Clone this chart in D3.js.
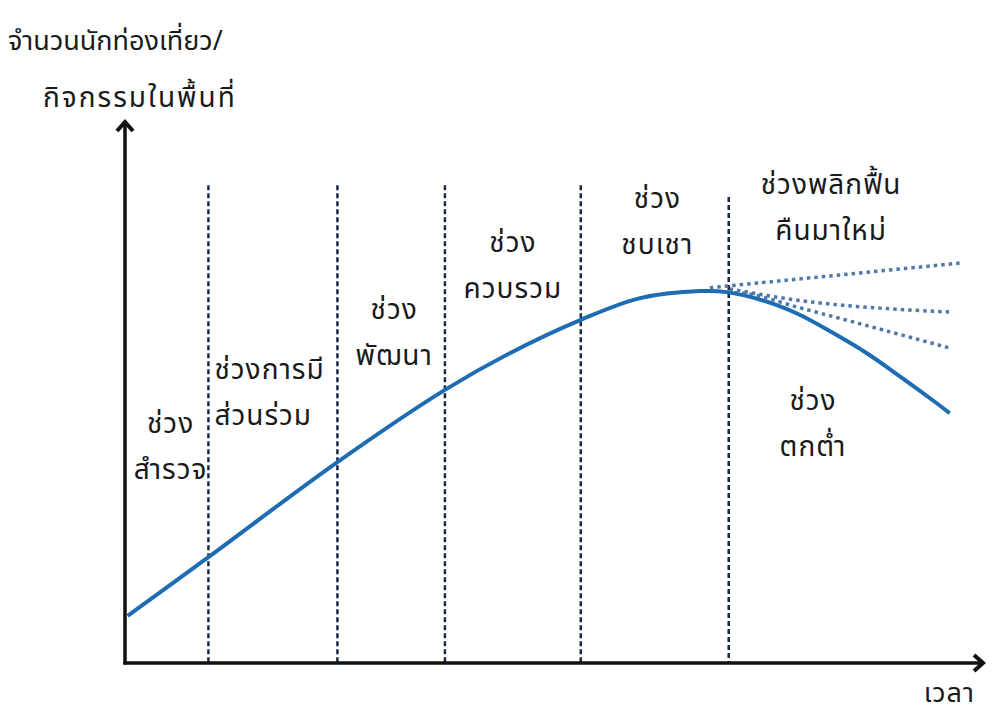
<!DOCTYPE html>
<html>
<head>
<meta charset="utf-8">
<script src="https://cdn.jsdelivr.net/npm/d3@7"></script>
<style>
  body { margin: 0; background: #fff; }
  text { font-family: "Noto Sans Thai", "Noto Sans", "DejaVu Sans", sans-serif; fill: #1a1a1a; }
</style>
</head>
<body>
<div id="chart"></div>
<script>
// main curve (time, visitors)
var curveT = [0.3, 9.7, 24.7, 37.2, 44.8, 53, 59.9, 66.9, 70, 74.7, 78.5, 82.3, 86.3, 90.1, 94, 95.9];
var curveV = [8.7, 19.5, 37, 50.3, 57.1, 63.2, 67.2, 68.5, 68.3, 66.5, 64.1, 60.8, 57, 52.8, 48.3, 46];

// rejuvenation scenarios (dotted)
var scenarioT = [[68, 97.4], [70.3, 76.5, 96.3], [70, 71.9, 78.5, 95.9]];
var scenarioV = [[69.1, 73.7], [68.9, 67.2, 64.6], [68.3, 68.1, 65.4, 58]];

// stage boundaries (time)
var boundaries = [9.7, 24.7, 37.2, 53, 70.2];
var boundaryTop = [88, 88, 88, 88, 85.8];

// stage labels
var stageLines = [["ช่วง", "สำรวจ"], ["ช่วงการมี", "ส่วนร่วม"], ["ช่วง", "พัฒนา"], ["ช่วง", "ควบรวม"],
                  ["ช่วง", "ชบเชา"], ["ช่วงพลิกฟื้น", "คืนมาใหม่"], ["ช่วง", "ตกต่ำ"]];
var stageT = [5.3, 10.4, 31.3, 45.1, 61.9, 82.1, 80];
var stageV = [42.3, 52.3, 63.3, 75.7, 83.8, 86.4, 46.6];
var stageAnchor = ["middle", "start", "middle", "middle", "middle", "middle", "middle"];

var yTitle = ["จำนวนนักท่องเที่ยว/", "กิจกรรมในพื้นที่"];
var xTitle = "เวลา";

var width = 992, height = 719;

var svg = d3.select("#chart").append("svg")
    .attr("width", width)
    .attr("height", height);

var x = d3.scaleLinear().domain([0, 100]).range([125, 985]);
var y = d3.scaleLinear().domain([0, 100]).range([663, 120]);

// dashed stage lines
svg.selectAll(".stage-line")
    .data(boundaries)
    .enter().append("line")
    .attr("class", "stage-line")
    .attr("x1", function (d) { return x(d) })
    .attr("x2", function (d) { return x(d) })
    .attr("y1", function (d, i) { return y(boundaryTop[i]) })
    .attr("y2", y(0))
    .attr("stroke", "#1a2847")
    .attr("stroke-width", 2.5)
    .attr("stroke-dasharray", "5,3")

var line = d3.line()
    .x(function (d) { return x(d[0]) })
    .y(function (d) { return y(d[1]) })
    .curve(d3.curveMonotoneX)

// dotted scenarios
scenarioT.forEach(function (ts, k) {
    svg.append("path")
        .datum(ts.map(function (t, i) { return [t, scenarioV[k][i]] }))
        .attr("d", line)
        .attr("fill", "none")
        .attr("stroke", "#5079a8")
        .attr("stroke-width", 3.5)
        .attr("stroke-dasharray", "3.5,4")
})

// main curve
svg.append("path")
    .datum(curveT.map(function (t, i) { return [t, curveV[i]] }))
    .attr("d", line.curve(d3.curveCatmullRom))
    .attr("fill", "none")
    .attr("stroke", "#1e6cb3")
    .attr("stroke-width", 4)

// axes with arrows
svg.append("line")
    .attr("x1", x(0)).attr("x2", x(0))
    .attr("y1", y(0) + 1.5).attr("y2", y(100) + 2)
    .attr("stroke", "#111").attr("stroke-width", 3.5)
svg.append("line")
    .attr("x1", x(0) - 1.5).attr("x2", x(100) - 2)
    .attr("y1", y(0)).attr("y2", y(0))
    .attr("stroke", "#111").attr("stroke-width", 3.5)
svg.append("path")
    .attr("d", "M" + (x(0) - 8) + "," + (y(100) + 11) + "L" + x(0) + "," + (y(100) + 2) + "L" + (x(0) + 8) + "," + (y(100) + 11))
    .attr("fill", "none").attr("stroke", "#111").attr("stroke-width", 4)
svg.append("path")
    .attr("d", "M" + (x(100) - 11) + "," + (y(0) - 8) + "L" + (x(100) - 2) + "," + y(0) + "L" + (x(100) - 11) + "," + (y(0) + 8))
    .attr("fill", "none").attr("stroke", "#111").attr("stroke-width", 4)

// axis titles
svg.append("text").attr("x", 8).attr("y", 50).attr("font-size", 27).text(yTitle[0])
svg.append("text").attr("x", 43).attr("y", 107).attr("font-size", 28)
    .attr("letter-spacing", 2).text(yTitle[1])
svg.append("text").attr("x", 975).attr("y", 702).attr("text-anchor", "end")
    .attr("font-size", 27).attr("letter-spacing", 1).text(xTitle)

// stage labels
var labels = svg.selectAll(".stage")
    .data(stageLines)
    .enter().append("text")
    .attr("class", "stage")
    .attr("font-size", 28)
    .attr("letter-spacing", 1)
    .attr("text-anchor", function (d, i) { return stageAnchor[i] })
    .attr("transform", function (d, i) { return "translate(" + x(stageT[i]) + "," + y(stageV[i]) + ")" })

labels.selectAll("tspan")
    .data(function (d) { return d })
    .enter().append("tspan")
    .attr("x", 0)
    .attr("dy", function (d, i) { return i === 0 ? 0 : 46 })
    .text(function (d) { return d })
</script>
</body>
</html>
